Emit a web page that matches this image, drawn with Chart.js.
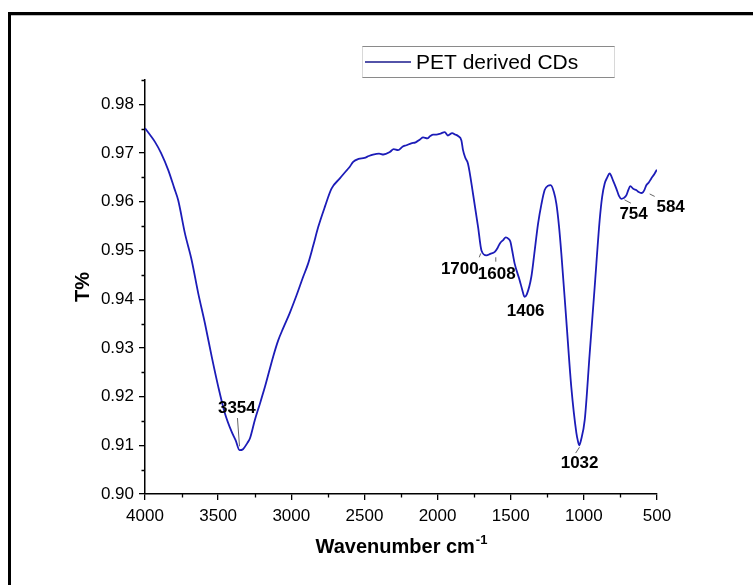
<!DOCTYPE html>
<html>
<head>
<meta charset="utf-8">
<style>
html,body{margin:0;padding:0;background:#fff;}
canvas{display:block;}
</style>
<script src="https://cdn.jsdelivr.net/npm/chart.js@4.4.1/dist/chart.umd.min.js"></script>
</head>
<body>
<canvas id="c" width="753" height="585"></canvas>
<script>
// ---- data ----
const wavenumbers = [4000,3960,3932,3890,3841,3800,3773,3727,3681,3636,3590,3544,3499,3454,3408,3380,3354,3330,3300,3283,3249,3215,3180,3124,3090,3056,3010,2964,2920,2885,2850,2816,2770,2725,2668,2640,2620,2600,2577,2540,2500,2470,2441,2400,2370,2327,2300,2270,2240,2213,2180,2150,2120,2099,2070,2050,2030,2008,1980,1951,1930,1900,1880,1860,1837,1826,1810,1792,1758,1723,1700,1666,1640,1609,1590,1575,1550,1534,1515,1502,1490,1473,1439,1420,1406,1390,1359,1340,1313,1290,1268,1245,1227,1205,1188,1170,1154,1120,1086,1051,1040,1032,1020,994,960,926,892,875,858,840,824,801,778,760,744,725,710,695,683,660,642,625,608,595,585,573,555,539,520,501];
const transmittance = [0.9751,0.9735,0.9723,0.9700,0.9665,0.9628,0.9603,0.9535,0.9480,0.9412,0.9350,0.9282,0.9220,0.9166,0.9128,0.9110,0.9090,0.9092,0.9105,0.9114,0.9152,0.9185,0.9220,0.9282,0.9315,0.9340,0.9372,0.9408,0.9445,0.9473,0.9510,0.9548,0.9590,0.9627,0.9648,0.9658,0.9665,0.9672,0.9682,0.9688,0.9690,0.9694,0.9697,0.9699,0.9697,0.9702,0.9708,0.9706,0.9713,0.9716,0.9720,0.9722,0.9728,0.9732,0.9730,0.9735,0.9738,0.9738,0.9740,0.9743,0.9736,0.9741,0.9738,0.9735,0.9726,0.9706,0.9690,0.9678,0.9617,0.9548,0.9500,0.9490,0.9493,0.9497,0.9505,0.9514,0.9522,0.9527,0.9524,0.9518,0.9500,0.9473,0.9439,0.9418,0.9405,0.9410,0.9446,0.9490,0.9555,0.9595,0.9624,0.9633,0.9634,0.9620,0.9596,0.9550,0.9494,0.9357,0.9220,0.9125,0.9108,0.9100,0.9110,0.9152,0.9289,0.9425,0.9562,0.9610,0.9637,0.9650,0.9658,0.9644,0.9627,0.9612,0.9606,0.9608,0.9613,0.9625,0.9632,0.9626,0.9624,0.9620,0.9618,0.9620,0.9625,0.9634,0.9640,0.9648,0.9656,0.9666];
const seriesName = "PET derived CDs";
const xTickValues = [4000,3500,3000,2500,2000,1500,1000,500];
const yTickValues = [0.90,0.91,0.92,0.93,0.94,0.95,0.96,0.97,0.98];
const peakLabels = ["3354","1700","1608","1406","1032","754","584"];
// label anchor (wavenumber, T) and leader line ends (wavenumber, T)
const peakLabelPos = [[3372,0.9176],[1848,0.9462],[1596,0.9451],[1398,0.9375],[1029,0.9064],[660,0.9574],[407,0.9589]];
const peakLeaders = [[3368,0.9156,3354,0.9098],[1715,0.9486,1705,0.9494],[1602,0.9477,1602,0.9486],null,[1056,0.9084,1030,0.9096],[678,0.9597,722,0.9604],[516,0.9611,550,0.9616]];

const pts = wavenumbers.map((w,i)=>({x:w,y:transmittance[i]}));

const decor = {
  id:'decor',
  afterDraw(chart){
    const ctx = chart.ctx, xs = chart.scales.x, ys = chart.scales.y;
    const a = chart.chartArea;
    ctx.save();
    // minor ticks
    ctx.strokeStyle = '#000'; ctx.lineWidth = 1.3;
    ctx.beginPath();
    for (let v = 3750; v > 500; v -= 500) {
      const px = Math.round(xs.getPixelForValue(v)) + 0.5;
      ctx.moveTo(px, a.bottom); ctx.lineTo(px, a.bottom + 3.5);
    }
    for (let v = 0.905; v < 0.99; v += 0.01) {
      const py = Math.round(ys.getPixelForValue(v)) + 0.5;
      ctx.moveTo(a.left, py); ctx.lineTo(a.left - 3.5, py);
    }
    ctx.stroke();
    // peak labels
    ctx.fillStyle = '#000';
    ctx.font = 'bold 17px "Liberation Sans", Arial, sans-serif';
    ctx.textAlign = 'center'; ctx.textBaseline = 'middle';
    peakLabels.forEach((t,i)=>{
      const p = peakLabelPos[i];
      ctx.fillText(t, xs.getPixelForValue(p[0]), ys.getPixelForValue(p[1]));
    });
    ctx.strokeStyle = '#555'; ctx.lineWidth = 0.9;
    peakLeaders.forEach(l=>{
      if(!l) return;
      ctx.beginPath();
      ctx.moveTo(xs.getPixelForValue(l[0]), ys.getPixelForValue(l[1]));
      ctx.lineTo(xs.getPixelForValue(l[2]), ys.getPixelForValue(l[3]));
      ctx.stroke();
    });
    // axis titles
    ctx.fillStyle = '#000';
    ctx.font = 'bold 20px "Liberation Sans", Arial, sans-serif';
    const main = 'Wavenumber cm';
    const sup = '-1';
    const mw = ctx.measureText(main).width;
    ctx.font = 'bold 13px "Liberation Sans", Arial, sans-serif';
    const sw = ctx.measureText(sup).width;
    const cx = (a.left + a.right)/2;
    const startX = cx - (mw + sw)/2;
    ctx.textAlign = 'left'; ctx.textBaseline = 'alphabetic';
    ctx.font = 'bold 20px "Liberation Sans", Arial, sans-serif';
    ctx.fillText(main, startX, 553);
    ctx.font = 'bold 13px "Liberation Sans", Arial, sans-serif';
    ctx.fillText(sup, startX + mw + 1, 544);
    ctx.save();
    ctx.translate(83, (a.top + a.bottom)/2);
    ctx.rotate(-Math.PI/2);
    ctx.textAlign = 'center'; ctx.textBaseline = 'middle';
    ctx.font = 'bold 20px "Liberation Sans", Arial, sans-serif';
    ctx.fillText('T%', 0, 0);
    ctx.restore();
    // legend
    ctx.strokeStyle = '#8a8a8a'; ctx.lineWidth = 1;
    ctx.beginPath();
    ctx.moveTo(362, 46.5); ctx.lineTo(615, 46.5);
    ctx.moveTo(362, 77.5); ctx.lineTo(615, 77.5);
    ctx.stroke();
    ctx.strokeStyle = '#d8d8d8';
    ctx.beginPath();
    ctx.moveTo(362.5, 46.5); ctx.lineTo(362.5, 77.5);
    ctx.moveTo(614.5, 46.5); ctx.lineTo(614.5, 77.5);
    ctx.stroke();
    ctx.strokeStyle = '#1a1a8c'; ctx.lineWidth = 1.6;
    ctx.beginPath(); ctx.moveTo(365, 62); ctx.lineTo(411, 62); ctx.stroke();
    ctx.fillStyle = '#000';
    ctx.font = '21px "Liberation Sans", Arial, sans-serif';
    ctx.textAlign = 'left'; ctx.textBaseline = 'middle';
    ctx.fillText(seriesName, 416, 63);
    // outer frame
    ctx.fillStyle = '#bdbdbd';
    ctx.fillRect(11, 15, 742, 1);
    ctx.fillStyle = '#000';
    ctx.fillRect(8, 12, 745, 3);
    ctx.fillRect(8, 12, 3, 573);
    ctx.restore();
  }
};

new Chart(document.getElementById('c'), {
  type: 'line',
  data: { datasets: [{
    label: seriesName,
    data: pts,
    borderColor: '#1c1cb8',
    borderWidth: 1.8,
    pointRadius: 0,
    fill: false,
    cubicInterpolationMode: 'monotone'
  }]},
  options: {
    responsive: false,
    animation: false,
    devicePixelRatio: 1,
    layout: { padding: { left: 0, top: 80, right: 96, bottom: 0 } },
    plugins: { legend: { display: false }, tooltip: { enabled: false } },
    scales: {
      x: {
        type: 'linear', reverse: true, min: 500, max: 4000,
        afterFit(s){ s.height = 91; },
        afterBuildTicks(s){ s.ticks = xTickValues.map(v=>({value:v})); },
        grid: { display: true, drawOnChartArea: false, drawTicks: true, tickLength: 6, color: '#000', lineWidth: 1.3 },
        border: { display: true, color: '#000', width: 1.5 },
        ticks: { color: '#000', font: { family: '"Liberation Sans", Arial, sans-serif', size: 17 }, padding: 6, maxRotation: 0, callback: v => String(v) }
      },
      y: {
        type: 'linear', min: 0.90, max: 0.985,
        afterFit(s){ s.width = 145; },
        afterBuildTicks(s){ s.ticks = yTickValues.map(v=>({value:v})); },
        grid: { display: true, drawOnChartArea: false, drawTicks: true, tickLength: 6, color: '#000', lineWidth: 1.3 },
        border: { display: true, color: '#000', width: 1.5 },
        ticks: { color: '#000', font: { family: '"Liberation Sans", Arial, sans-serif', size: 17 }, padding: 5, callback: v => Number(v).toFixed(2) }
      }
    }
  },
  plugins: [decor]
});
</script>
</body>
</html>
